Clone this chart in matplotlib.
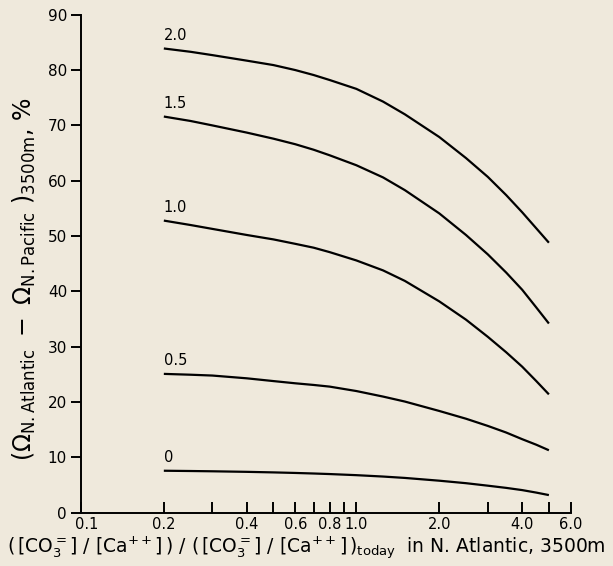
import matplotlib
matplotlib.use("Agg")
import matplotlib.pyplot as plt
import matplotlib.transforms as mtransforms
from matplotlib.ticker import FixedLocator, NullFormatter

plt.rcParams["font.family"] = ["DejaVu Sans"]
plt.rcParams["mathtext.default"] = "regular"

# ==========================================
# Data
# ==========================================

ratio = [0.2, 0.25, 0.3, 0.4, 0.5, 0.6, 0.7, 0.8, 1.0,
         1.25, 1.5, 2.0, 2.5, 3.0, 3.5, 4.0, 4.5, 5.0]

curve_20 = [83.9, 83.3, 82.7, 81.7, 80.9, 80.0, 79.1, 78.2, 76.6,
            74.3, 72.0, 67.9, 64.1, 60.7, 57.4, 54.3, 51.4, 48.8]
curve_15 = [71.6, 70.8, 70.0, 68.7, 67.6, 66.6, 65.6, 64.6, 62.8,
            60.6, 58.3, 54.1, 50.2, 46.7, 43.4, 40.3, 37.1, 34.2]
curve_10 = [52.8, 52.0, 51.3, 50.2, 49.4, 48.6, 47.9, 47.1, 45.6,
            43.8, 41.9, 38.2, 34.9, 31.8, 29.0, 26.4, 23.8, 21.4]
curve_05 = [25.1, 24.95, 24.8, 24.3, 23.8, 23.4, 23.1, 22.8, 22.0,
            21.0, 20.1, 18.4, 17.0, 15.7, 14.5, 13.3, 12.3, 11.3]
curve_00 = [7.6, 7.55, 7.5, 7.4, 7.3, 7.2, 7.1, 7.0, 6.8,
            6.55, 6.3, 5.8, 5.35, 4.9, 4.5, 4.1, 3.65, 3.2]

curves = [curve_20, curve_15, curve_10, curve_05, curve_00]
curve_labels = ["2.0", "1.5", "1.0", "0.5", "0"]

x_label_ticks = [0.1, 0.2, 0.4, 0.6, 0.8, 1.0, 2.0, 4.0, 6.0]
x_label_text = ["0.1", "0.2", "0.4", "0.6", "0.8", "1.0", "2.0", "4.0", "6.0"]
x_minor_ticks = [0.3, 0.5, 0.7, 0.9, 3.0, 5.0]
y_ticks = [0, 10, 20, 30, 40, 50, 60, 70, 80, 90]

paper = "#efe9dc"

# ==========================================
# Figure
# ==========================================

fig = plt.figure(figsize=(6.13, 5.66), dpi=100, facecolor=paper)
ax = fig.add_axes([0.132, 0.094, 0.799, 0.880])
ax.set_facecolor(paper)

for values, name in zip(curves, curve_labels):
    ax.plot(ratio, values, color="black", linewidth=1.6,
            solid_capstyle="butt")
    ax.annotate(name, (ratio[0], values[0]), xytext=(0, 4),
                textcoords="offset points", ha="left", va="bottom",
                fontsize=10.5)

ax.set_xscale("log")
ax.set_xlim(0.1, 6.0)
ax.set_ylim(0, 90)

for side in ["top", "right"]:
    ax.spines[side].set_visible(False)
for side in ["left", "bottom"]:
    ax.spines[side].set_linewidth(1.4)

ax.xaxis.set_major_locator(FixedLocator(x_label_ticks))
ax.set_xticklabels(x_label_text)
ax.xaxis.set_minor_locator(FixedLocator(x_minor_ticks))
ax.xaxis.set_minor_formatter(NullFormatter())
ax.tick_params(axis="x", which="both", direction="in", length=8,
               width=1.4, pad=3, labelsize=10.5)

# the 0.1 label sits a little right of the corner
shift = mtransforms.ScaledTranslation(6 / 100, 0, fig.dpi_scale_trans)
first = ax.get_xticklabels()[0]
first.set_transform(first.get_transform() + shift)

ax.set_yticks(y_ticks)
ax.tick_params(axis="y", direction="out", length=7, width=1.4,
               pad=3, labelsize=11)

ax.set_ylabel(
    r"$(\Omega_{N.Atlantic}\ -\ \Omega_{N.Pacific}\ )_{3500m}$, %",
    fontsize=17
)
ax.yaxis.set_label_coords(-0.088, 0.47)

fig.text(
    0.5, 0.008,
    r"$(\,[CO_3^{=}]\ /\ [Ca^{++}]\,)\ /\ (\,[CO_3^{=}]\ /\ [Ca^{++}]\,)_{today}$"
    r"  in N. Atlantic, 3500m",
    fontsize=13.5, ha="center", va="bottom"
)

fig.savefig("out.png", dpi=100, facecolor=paper)
